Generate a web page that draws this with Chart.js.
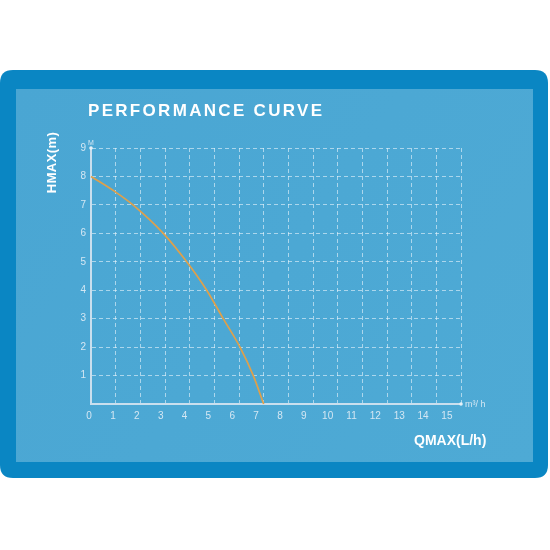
<!DOCTYPE html>
<html>
<head>
<meta charset="utf-8">
<script src="https://cdn.jsdelivr.net/npm/chart.js@4.4.1/dist/chart.umd.min.js"></script>
<style>
html,body{margin:0;padding:0;background:#fff;}
#wrap{width:550px;height:550px;position:relative;}
</style>
</head>
<body>
<div id="wrap"><canvas id="c" width="550" height="550"></canvas></div>
<script>
// ---- data ----
const flowValues = [0, 1, 1.7, 2.93, 3.88, 4.69, 5.36, 6.04, 6.58, 7.0];   // m3/h
const headValues = [8, 7.45, 7, 6, 5, 4, 3, 2, 1, 0];                      // m
const xTickLabels = [0,1,2,3,4,5,6,7,8,9,10,11,12,13,14,15];
const yTickLabels = [1,2,3,4,5,6,7,8,9];
const titleText = 'PERFORMANCE CURVE';
const yTitle = 'HMAX(m)';
const xTitle = 'QMAX(L/h)';
const yUnit = 'M';
const xUnit = 'm³/ h';

const points = flowValues.map((q, i) => ({x: q, y: headValues[i]}));

const gridColor = 'rgba(235,245,252,0.6)';
const axisColor = '#c9dfee';
const labelColor = '#d4e7f3';

function roundRect(ctx, x, y, w, h, r) {
  ctx.beginPath();
  ctx.moveTo(x + r, y);
  ctx.lineTo(x + w - r, y);
  ctx.quadraticCurveTo(x + w, y, x + w, y + r);
  ctx.lineTo(x + w, y + h - r);
  ctx.quadraticCurveTo(x + w, y + h, x + w - r, y + h);
  ctx.lineTo(x + r, y + h);
  ctx.quadraticCurveTo(x, y + h, x, y + h - r);
  ctx.lineTo(x, y + r);
  ctx.quadraticCurveTo(x, y, x + r, y);
  ctx.closePath();
}

const decor = {
  id: 'decor',
  beforeDraw(chart) {
    const ctx = chart.ctx;
    ctx.save();
    ctx.fillStyle = '#ffffff';
    ctx.fillRect(0, 0, 550, 550);
    ctx.fillStyle = '#0a86c3';
    roundRect(ctx, 0, 70, 548, 408, 13);
    ctx.fill();
    const g = ctx.createLinearGradient(16, 89, 533, 462);
    g.addColorStop(0, '#4aa6d3');
    g.addColorStop(1, '#4eaad5');
    ctx.fillStyle = g;
    ctx.fillRect(16, 89, 517, 373);
    ctx.restore();
  },
  afterDraw(chart) {
    const ctx = chart.ctx;
    const xs = chart.scales.x, ys = chart.scales.y;
    ctx.save();
    ctx.fillStyle = '#ffffff';
    // title
    ctx.font = 'bold 17px "Liberation Sans", Arial, sans-serif';
    ctx.textBaseline = 'alphabetic';
    ctx.textAlign = 'left';
    const w0 = ctx.measureText(titleText).width;
    const sp = (234 - w0) / (titleText.length - 1);
    ctx.letterSpacing = sp + 'px';
    ctx.fillText(titleText, 88, 116);
    ctx.letterSpacing = '0px';
    // y title rotated
    ctx.save();
    ctx.translate(56, 162.5);
    ctx.rotate(-Math.PI / 2);
    ctx.font = 'bold 13px "Liberation Sans", Arial, sans-serif';
    ctx.textAlign = 'center';
    ctx.letterSpacing = '0.4px';
    ctx.fillText(yTitle, 0, 0);
    ctx.restore();
    // x title
    ctx.font = 'bold 14px "Liberation Sans", Arial, sans-serif';
    ctx.textAlign = 'left';
    ctx.fillText(xTitle, 414, 444.5);
    // unit labels
    ctx.fillStyle = labelColor;
    ctx.font = '7px "Liberation Sans", Arial, sans-serif';
    ctx.textAlign = 'center';
    ctx.fillText(yUnit, xs.left, ys.top - 3);
    ctx.font = '9px "Liberation Sans", Arial, sans-serif';
    ctx.textAlign = 'left';
    ctx.fillText(xUnit, xs.right + 4, ys.bottom + 3);
    // end dots on axes
    ctx.fillStyle = '#e6f1f8';
    ctx.beginPath(); ctx.arc(xs.right, ys.bottom, 1.8, 0, Math.PI * 2); ctx.fill();
    ctx.beginPath(); ctx.arc(xs.left, ys.top, 1.8, 0, Math.PI * 2); ctx.fill();
    ctx.restore();
  }
};

new Chart(document.getElementById('c'), {
  type: 'line',
  data: {
    datasets: [{
      data: points,
      borderColor: '#dfa04a',
      borderWidth: 1.7,
      pointRadius: 0,
      fill: false,
      cubicInterpolationMode: 'monotone',
      clip: false
    }]
  },
  options: {
    responsive: false,
    animation: false,
    layout: { padding: { top: 148, left: 51, right: 89, bottom: 116 } },
    plugins: { legend: { display: false }, title: { display: false }, tooltip: { enabled: false } },
    scales: {
      x: {
        type: 'linear', position: 'bottom', min: 0, max: 15,
        ticks: { display: false, stepSize: 1 },
        grid: { color: gridColor, lineWidth: 1, drawTicks: false },
        border: { color: axisColor, width: 2, dash: [4, 3] },
        afterFit(s) { s.height = 0; }
      },
      x2: {
        type: 'linear', position: 'bottom', min: 0.08, max: 15.59,
        afterBuildTicks(s) { s.ticks = xTickLabels.map(v => ({value: v})); },
        ticks: { autoSkip: false, maxRotation: 0, color: labelColor, padding: 6,
                 font: { family: '"Liberation Sans Narrow", "Liberation Sans", Arial, sans-serif', size: 10 },
                 callback: v => String(v) },
        grid: { display: false, drawTicks: false },
        border: { display: false },
        afterFit(s) { s.height = 30; }
      },
      y: {
        type: 'linear', min: 0, max: 9,
        afterBuildTicks(s) { s.ticks = [0].concat(yTickLabels).map(v => ({value: v})); },
        ticks: { color: labelColor, padding: 5,
                 font: { family: '"Liberation Sans Narrow", "Liberation Sans", Arial, sans-serif', size: 10 },
                 callback: v => (v === 0 ? '' : String(v)) },
        grid: { color: gridColor, lineWidth: 1, drawTicks: false },
        border: { color: axisColor, width: 2, dash: [4, 3] },
        afterFit(s) { s.width = 40; }
      }
    }
  },
  plugins: [decor]
});
</script>
</body>
</html>
